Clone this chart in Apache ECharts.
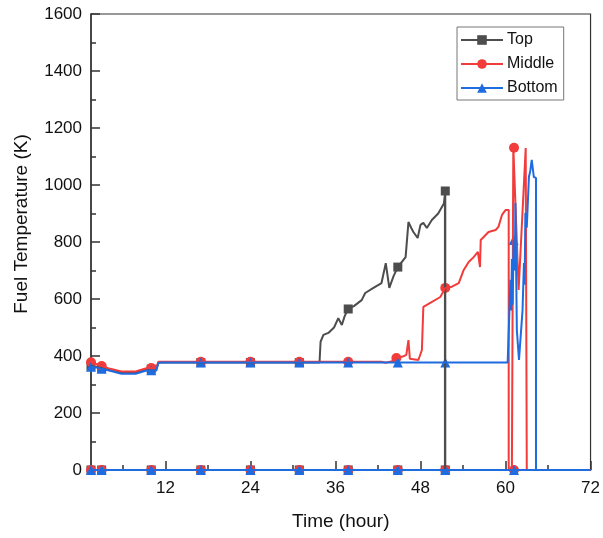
<!DOCTYPE html>
<html>
<head>
<meta charset="utf-8">
<script src="https://cdn.jsdelivr.net/npm/echarts@6/dist/echarts.min.js"></script>
<style>
html, body { margin: 0; padding: 0; background: #fff; }
#main { width: 603px; height: 538px; }
</style>
</head>
<body>
<div id="main"></div>
<script>
// fuel temperature (K) vs time (hour)
var topData = [
    [1.5,365],[3,358],[4.2,350],[5.8,341],[7.8,341],[9.2,351],[10,354],[10.7,352],[11,377],
    [33.75,377],[33.9,450],[34.3,474],[35.0,481],[35.8,500],[36.4,533],[36.9,509],[37.3,540],
    [37.8,565],[38.6,575],[39.7,596],[40.2,621],[41.3,638],[42.5,656],[43.1,726],[43.6,639],
    [44.2,680],[44.8,712],[45.9,747],[46.3,870],[46.7,849],[47.0,835],[47.6,814],[48.0,860],
    [48.4,867],[48.9,849],[49.6,877],[50.5,900],[51.3,935],[51.5,979],[51.5,0],[51.45,979],[51.45,0],[72,0]
];
var middleData = [
    [1.5,378],[2.2,372],[3,365],[4.2,355],[5.8,346],[7.8,346],[9.2,356],[10,358],[10.7,356],[11,380],
    [42.5,380],[42.7,374],[43.1,376],[44,382],[44.6,393],[45.5,398],[46.0,404],[46.3,456],[46.5,390],
    [47.7,386],[48.2,421],[48.4,572],[48.9,579],[49.1,586],[50.8,607],[51.5,639],[52.3,642],
    [53.4,656],[54.1,702],[54.8,730],[55.5,747],[56.1,765],[56.4,712],[56.5,807],[57.6,835],
    [58.6,842],[59.0,853],[59.5,895],[60.0,912],[60.45,912],[60.45,0],[60.9,0],[61.1,1133],
    [61.3,1130],[61.85,632],[62.85,1130],[63.0,1130],[63.0,0],[72,0]
];
var bottomData = [
    [1.5,362],[2.2,360],[3,355],[4.2,348],[5.8,338],[7.8,338],[9.2,348],[10,350],[10.7,348],[11,375],
    [11.4,377],[60.3,377],[60.5,380],[60.7,667],[60.8,560],[60.9,740],[61.0,580],[61.15,807],
    [61.3,700],[61.4,937],[61.5,700],[61.6,491],[61.9,386],[62.1,388],[62.4,560],[62.6,726],
    [62.7,650],[62.8,902],[63.0,850],[63.3,1028],[63.5,1050],[63.7,1088],[64.0,1028],[64.3,1025],
    [64.3,0],[72,0]
];

// marker points on the curves
var topMarks = [[1.5,365],[3,358],[10,354],[17,377],[24,377],[30.9,377],[37.8,565],[44.8,712],[51.5,979]];
var middleMarks = [[1.5,378],[3,365],[10,358],[17,380],[24,380],[30.9,380],[37.8,380],[44.6,393],[51.5,639],[61.2,1131]];
var bottomMarks = [[1.5,362],[3,355],[10,350],[17,377],[24,377],[30.9,377],[37.8,377],[44.8,377],[51.5,377],[61.15,807]];

// times of the markers sitting on the zero line
var zeroTimesTop = [1.5,3,10,17,24,30.9,37.8,44.8,51.5];
var zeroTimesOther = [1.5,3,10,17,24,30.9,37.8,44.8,51.5,61.2];

var xLabels = [12,24,36,48,60,72];
var xMinor = [6,18,30,42,54,66];

var colors = { Top: '#4d4d4d', Middle: '#f23b3b', Bottom: '#1f6be0' };
var symbols = { Top: 'rect', Middle: 'circle', Bottom: 'triangle' };

function zeroPts(times) {
    return times.map(function (t) { return [t, 0]; });
}

function lineSeries(name, data) {
    return {
        name: name, type: 'line', data: data,
        symbol: symbols[name], symbolSize: 10, showSymbol: false,
        lineStyle: { color: colors[name], width: 2 },
        itemStyle: { color: colors[name] },
        animation: false
    };
}
function zeroLine(name) {
    return {
        name: name, type: 'line', data: [[1.5, 0], [72, 0]],
        showSymbol: false, symbol: 'none',
        lineStyle: { color: colors[name], width: 2 },
        animation: false
    };
}
function markSeries(name, data) {
    return {
        name: name, type: 'scatter', data: data,
        symbol: symbols[name], symbolSize: name === 'Top' ? 9 : 10,
        itemStyle: { color: colors[name], opacity: 1 },
        animation: false
    };
}

var myChart = echarts.init(document.getElementById('main'));
myChart.setOption({
    backgroundColor: '#fff',
    textStyle: { fontFamily: 'Liberation Sans, Arial, sans-serif' },
    grid: { left: 91, right: 11, top: 14, bottom: 68, show: true, borderColor: '#333', borderWidth: 1.2, backgroundColor: 'transparent' },
    legend: {
        data: ['Top', 'Middle', 'Bottom'],
        orient: 'vertical',
        left: 457, top: 27,
        itemWidth: 42, itemHeight: 12, itemGap: 8,
        padding: [5, 6, 4, 3],
        borderColor: '#777', borderWidth: 1,
        textStyle: { fontSize: 16, color: '#111', padding: [0, 0, 0, -1] }
    },
    xAxis: [{
        type: 'value', min: 1.5, max: 72,
        name: 'Time (hour)', nameLocation: 'middle', nameGap: 42,
        nameTextStyle: { fontSize: 19, color: '#111' },
        axisLine: { lineStyle: { color: '#333', width: 1.5 } },
        axisTick: { inside: true, length: 9, customValues: xLabels, lineStyle: { color: '#333', width: 1.5 } },
        axisLabel: { customValues: xLabels, fontSize: 17, color: '#111', margin: 10 },
        splitLine: { show: false }
    }, {
        type: 'value', min: 1.5, max: 72, position: 'bottom',
        axisLine: { show: false },
        axisTick: { inside: true, length: 5, customValues: xMinor, lineStyle: { color: '#333', width: 1.5 } },
        axisLabel: { show: false },
        splitLine: { show: false }
    }],
    yAxis: {
        type: 'value', min: 0, max: 1600, interval: 200,
        name: 'Fuel Temperature (K)', nameLocation: 'middle', nameGap: 60,
        nameTextStyle: { fontSize: 19, color: '#111', padding: [0, 0, 0, 36] },
        axisLine: { show: true, lineStyle: { color: '#333', width: 1.5 } },
        axisTick: { show: true, inside: true, length: 9, lineStyle: { color: '#333', width: 1.5 } },
        minorTick: { show: true, splitNumber: 2, length: 5, lineStyle: { color: '#333', width: 1.5 } },
        axisLabel: { fontSize: 17, color: '#111', margin: 9, formatter: function (v) { return String(v); } },
        splitLine: { show: false }
    },
    series: [
        lineSeries('Top', topData),
        lineSeries('Middle', middleData),
        lineSeries('Bottom', bottomData),
        zeroLine('Top'), zeroLine('Middle'), zeroLine('Bottom'),
        markSeries('Top', topMarks.concat(zeroPts(zeroTimesTop))),
        markSeries('Middle', middleMarks.concat(zeroPts(zeroTimesOther))),
        markSeries('Bottom', bottomMarks.concat(zeroPts(zeroTimesOther)))
    ]
});
</script>
</body>
</html>
